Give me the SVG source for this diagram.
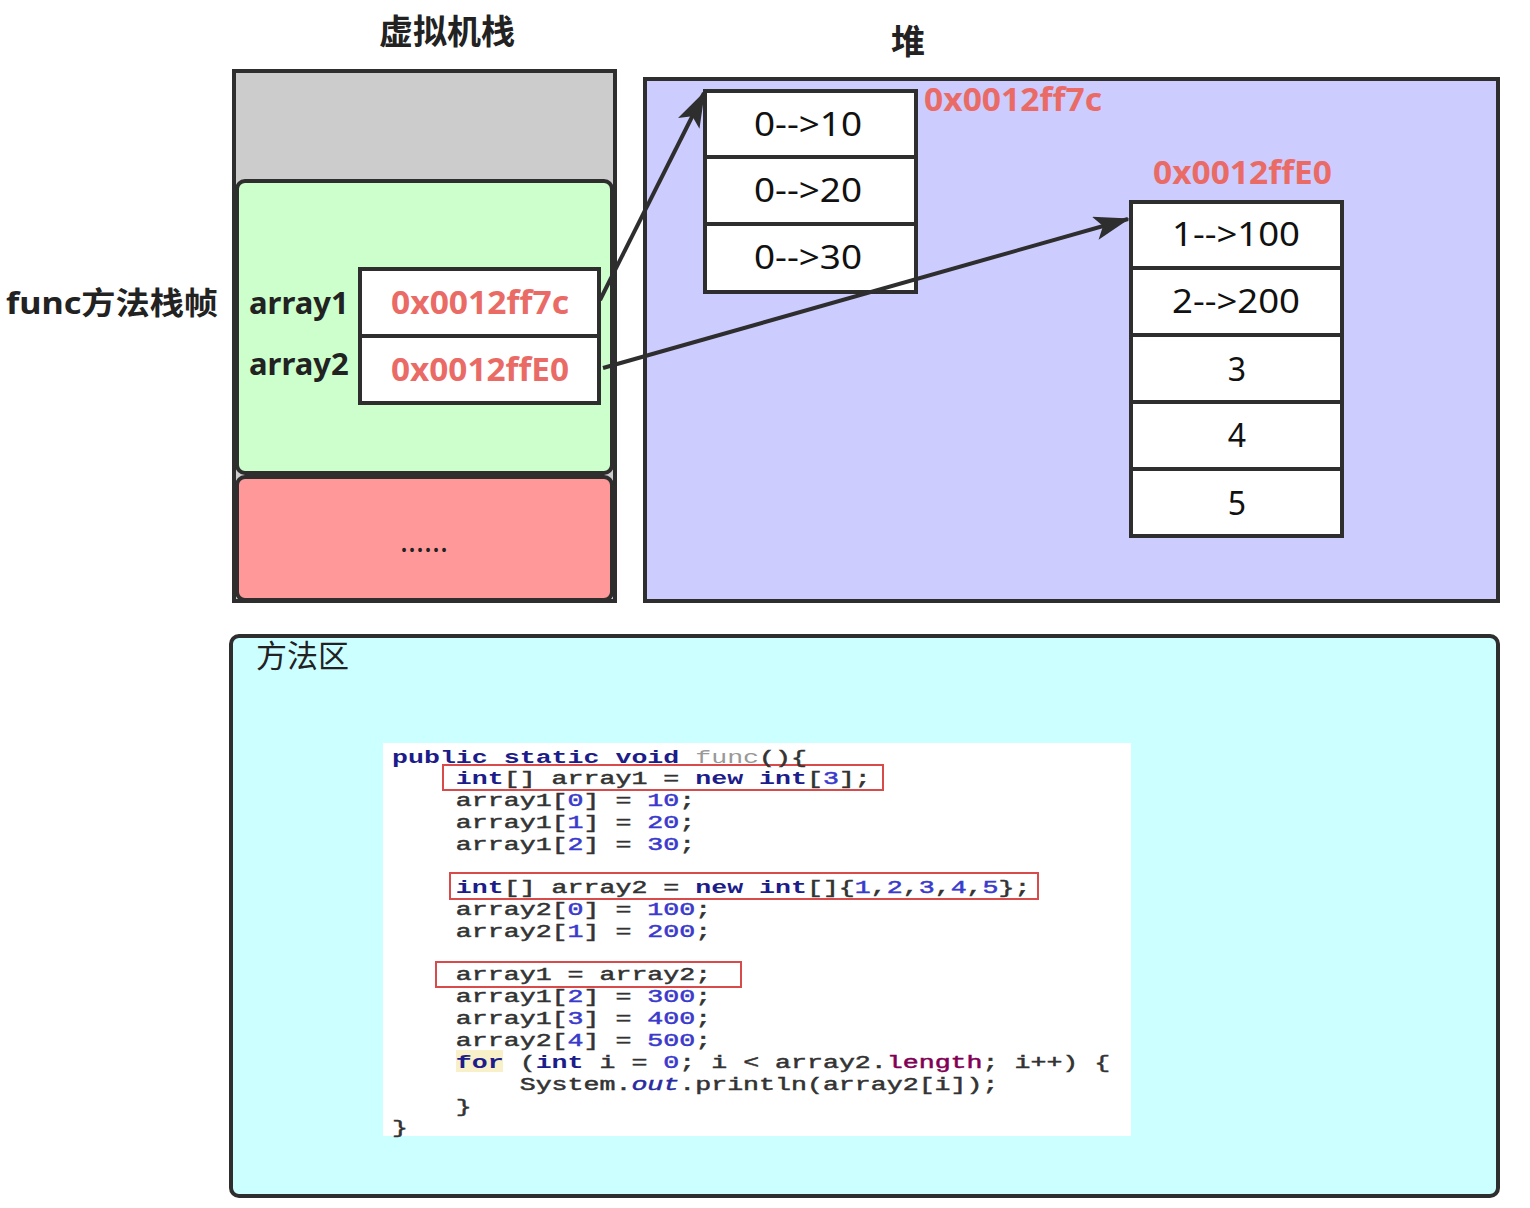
<svg xmlns="http://www.w3.org/2000/svg" width="1530" height="1208" viewBox="0 0 1530 1208">
<style>
.t{font-family:"Noto Sans","Noto Sans CJK SC",sans-serif;fill:#222}
.title{font-size:34px;font-weight:bold}
.lbl{font-size:31px;font-weight:bold;fill:#222}
.addr{font-family:"Noto Sans",sans-serif;font-size:33px;font-weight:bold;fill:#ea6b66}
.val{font-family:"Noto Sans",sans-serif;font-size:32px;fill:#111}
.box{stroke:#2e2e2e;stroke-width:4}
.code{font-family:"Liberation Mono",monospace;font-size:19px;fill:#333;stroke:#333;stroke-width:0.5}
.kw{fill:#1c1c8a;stroke:#1c1c8a;font-weight:bold;stroke-width:0}
.num{fill:#3a3acc;stroke:#3a3acc}
.rb{fill:none;stroke:#d94a4a;stroke-width:2}
</style>
<defs>
<marker id="ah" viewBox="0 0 36 24" refX="34" refY="12" markerWidth="36" markerHeight="24" markerUnits="userSpaceOnUse" orient="auto">
<path d="M0,0 L36,12 L0,24 L8,12 z" fill="#2e2e2e"/>
</marker>
</defs>
<rect width="1530" height="1208" fill="#ffffff"/>

<g id="stack">
<text class="t title" x="447" y="44" text-anchor="middle">虚拟机栈</text>
<rect class="box" x="234" y="71" width="381" height="530" fill="#cccccc"/>
<rect class="box" x="237" y="181" width="375" height="292" rx="8" fill="#ccffcc"/>
<rect class="box" x="237" y="477" width="375" height="123" rx="8" fill="#ff9999"/>
<text class="t" x="424" y="552" font-size="30" text-anchor="middle">......</text>
</g>

<g id="frame-label">
<text class="t lbl" x="6" y="314" font-size="34" textLength="212" lengthAdjust="spacingAndGlyphs">func方法栈帧</text>
</g>

<g id="stack-vars">
<text class="t lbl" x="249" y="314">array1</text>
<text class="t lbl" x="249" y="375">array2</text>
<rect class="box" x="360" y="269" width="239" height="67" fill="#ffffff"/>
<rect class="box" x="360" y="336" width="239" height="67" fill="#ffffff"/>
<text class="addr" x="391" y="314" textLength="178" lengthAdjust="spacingAndGlyphs">0x0012ff7c</text>
<text class="addr" x="391" y="381" textLength="178" lengthAdjust="spacingAndGlyphs">0x0012ffE0</text>
</g>

<g id="heap">
<text class="t title" x="908" y="54" text-anchor="middle">堆</text>
<rect class="box" x="645" y="79" width="853" height="522" fill="#ccccff"/>
</g>

<g id="heap-array1">
<text class="addr" x="924" y="111" textLength="178" lengthAdjust="spacingAndGlyphs">0x0012ff7c</text>
<rect class="box" x="705" y="91" width="211" height="66" fill="#ffffff"/>
<rect class="box" x="705" y="157" width="211" height="67" fill="#ffffff"/>
<rect class="box" x="705" y="224" width="211" height="68" fill="#ffffff"/>
<text class="val" x="754" y="136" textLength="108" lengthAdjust="spacingAndGlyphs">0--&gt;10</text>
<text class="val" x="754" y="202" textLength="108" lengthAdjust="spacingAndGlyphs">0--&gt;20</text>
<text class="val" x="754" y="269" textLength="108" lengthAdjust="spacingAndGlyphs">0--&gt;30</text>
</g>

<g id="heap-array2">
<text class="addr" x="1153" y="184" textLength="179" lengthAdjust="spacingAndGlyphs">0x0012ffE0</text>
<rect class="box" x="1131" y="202" width="211" height="66" fill="#ffffff"/>
<rect class="box" x="1131" y="268" width="211" height="67" fill="#ffffff"/>
<rect class="box" x="1131" y="335" width="211" height="67" fill="#ffffff"/>
<rect class="box" x="1131" y="402" width="211" height="67" fill="#ffffff"/>
<rect class="box" x="1131" y="469" width="211" height="67" fill="#ffffff"/>
<text class="val" x="1172" y="246" textLength="128" lengthAdjust="spacingAndGlyphs">1--&gt;100</text>
<text class="val" x="1172" y="313" textLength="128" lengthAdjust="spacingAndGlyphs">2--&gt;200</text>
<text class="val" x="1237" y="381" text-anchor="middle">3</text>
<text class="val" x="1237" y="447" text-anchor="middle">4</text>
<text class="val" x="1237" y="515" text-anchor="middle">5</text>
</g>

<g id="connectors" stroke="#2e2e2e" stroke-width="4" fill="none">
<line x1="600" y1="300" x2="704" y2="93" marker-end="url(#ah)"/>
<line x1="603" y1="368" x2="1128" y2="219" marker-end="url(#ah)"/>
</g>

<g id="method-area">
<rect x="231" y="636" width="1267" height="560" rx="8" fill="#ccffff" stroke="#2e2e2e" stroke-width="4"/>
<text class="t" x="256" y="667" font-size="31">方法区</text>
</g>

<g id="code">
<rect x="383" y="743" width="748" height="393" fill="#ffffff"/>
<rect x="456" y="1050" width="47" height="22" fill="#f7f0c8"/>
<rect class="rb" x="443" y="765" width="440" height="25"/>
<rect class="rb" x="450" y="873" width="588" height="26"/>
<rect class="rb" x="436" y="962" width="305" height="25"/>
<g transform="translate(392,0) scale(1.4,1)">
<text class="code" x="0" y="763"><tspan class="kw">public static void </tspan><tspan fill="#999" stroke="none">func</tspan>(){</text>
<text class="code" x="45.6" y="784"><tspan class="kw">int</tspan>[] array1 = <tspan class="kw">new int</tspan>[<tspan class="num">3</tspan>];</text>
<text class="code" x="45.6" y="806">array1[<tspan class="num">0</tspan>] = <tspan class="num">10</tspan>;</text>
<text class="code" x="45.6" y="828">array1[<tspan class="num">1</tspan>] = <tspan class="num">20</tspan>;</text>
<text class="code" x="45.6" y="850">array1[<tspan class="num">2</tspan>] = <tspan class="num">30</tspan>;</text>
<text class="code" x="45.6" y="893"><tspan class="kw">int</tspan>[] array2 = <tspan class="kw">new int</tspan>[]{<tspan class="num">1</tspan>,<tspan class="num">2</tspan>,<tspan class="num">3</tspan>,<tspan class="num">4</tspan>,<tspan class="num">5</tspan>};</text>
<text class="code" x="45.6" y="915">array2[<tspan class="num">0</tspan>] = <tspan class="num">100</tspan>;</text>
<text class="code" x="45.6" y="937">array2[<tspan class="num">1</tspan>] = <tspan class="num">200</tspan>;</text>
<text class="code" x="45.6" y="980">array1 = array2;</text>
<text class="code" x="45.6" y="1002">array1[<tspan class="num">2</tspan>] = <tspan class="num">300</tspan>;</text>
<text class="code" x="45.6" y="1024">array1[<tspan class="num">3</tspan>] = <tspan class="num">400</tspan>;</text>
<text class="code" x="45.6" y="1046">array2[<tspan class="num">4</tspan>] = <tspan class="num">500</tspan>;</text>
<text class="code" x="45.6" y="1068" xml:space="preserve"><tspan class="kw">for</tspan> (<tspan class="kw">int</tspan> i = <tspan class="num">0</tspan>; i &lt; array2.<tspan fill="#7f0055" stroke="#7f0055">length</tspan>; i++) {</text>
<text class="code" x="91.2" y="1090">System.<tspan fill="#2a2aa0" stroke="#2a2aa0" font-style="italic">out</tspan>.println(array2[i]);</text>
<text class="code" x="45.6" y="1112">}</text>
<text class="code" x="0" y="1133">}</text>
</g>
</g>
</svg>
